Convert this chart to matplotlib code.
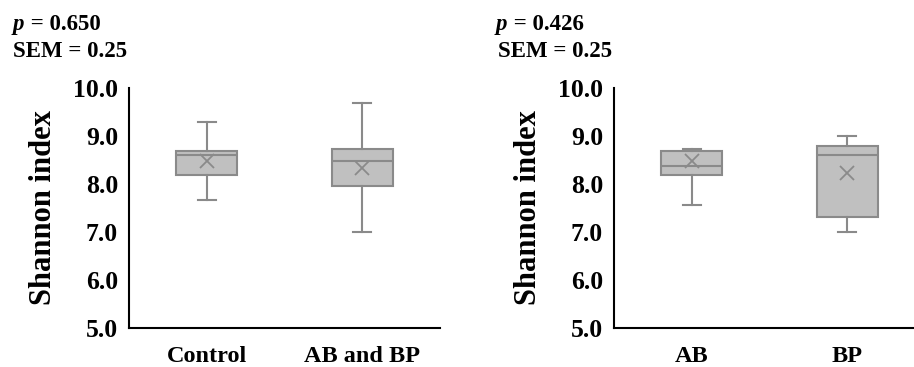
import matplotlib
matplotlib.use("Agg")
import matplotlib.pyplot as plt

W, H = 914, 367
DPI = 100

# ---- data ----
left_groups = ["Control", "AB and BP"]
left_whislo = [7.67, 6.99]
left_q1 = [8.19, 7.96]
left_med = [8.60, 8.47]
left_q3 = [8.69, 8.72]
left_whishi = [9.30, 9.69]
left_mean = [8.47, 8.34]
left_p = "0.650"
left_sem = "0.25"

right_groups = ["AB", "BP"]
right_whislo = [7.57, 6.99]
right_q1 = [8.19, 7.31]
right_med = [8.38, 8.60]
right_q3 = [8.69, 8.79]
right_whishi = [8.72, 9.01]
right_mean = [8.47, 8.22]
right_p = "0.426"
right_sem = "0.25"

yticks = [5.0, 6.0, 7.0, 8.0, 9.0, 10.0]

SERIF = "Liberation Serif"
BOX_FACE = "#c0c0c0"
BOX_EDGE = "#8a8a8a"

fig = plt.figure(figsize=(W / DPI, H / DPI), dpi=DPI)


def px_axes(x0, x1, y_top, y_bot):
    return fig.add_axes([x0 / W, 1 - y_bot / H, (x1 - x0) / W, (y_bot - y_top) / H])


def panel(ax, groups, lo, q1, med, q3, hi, mean):
    stats = []
    for i, g in enumerate(groups):
        stats.append(dict(label=g, whislo=lo[i], q1=q1[i], med=med[i], q3=q3[i],
                          whishi=hi[i], mean=mean[i], fliers=[]))
    ax.bxp(stats, positions=list(range(1, len(groups) + 1)), widths=0.39,
           capwidths=0.115, patch_artist=True, showmeans=True, showfliers=False,
           boxprops=dict(facecolor=BOX_FACE, edgecolor=BOX_EDGE, linewidth=1.5),
           medianprops=dict(color=BOX_EDGE, linewidth=1.5),
           whiskerprops=dict(color=BOX_EDGE, linewidth=1.5),
           capprops=dict(color=BOX_EDGE, linewidth=1.5),
           meanprops=dict(marker="x", markeredgecolor=BOX_EDGE, markersize=10,
                          markeredgewidth=1.3))
    ax.set_xlim(0.5, len(groups) + 0.5)
    ax.set_ylim(5.0, 10.0)
    ax.set_yticks(yticks)
    ax.set_yticklabels([f"{v:.1f}" for v in yticks])
    for s in ["top", "right"]:
        ax.spines[s].set_visible(False)
    for s in ["left", "bottom"]:
        ax.spines[s].set_linewidth(1.5)
        ax.spines[s].set_color("black")
    ax.tick_params(axis="both", length=0)
    ax.tick_params(axis="y", pad=8)
    ax.tick_params(axis="x", pad=13)
    for lab in ax.get_yticklabels():
        lab.set_fontfamily(SERIF)
        lab.set_fontweight("bold")
        lab.set_fontsize(18.5)
    for lab in ax.get_xticklabels():
        lab.set_fontfamily(SERIF)
        lab.set_fontweight("bold")
        lab.set_fontsize(17.5)
    ax.patch.set_alpha(0)


axL = px_axes(129, 440, 88, 328)
panel(axL, left_groups, left_whislo, left_q1, left_med, left_q3, left_whishi, left_mean)
axR = px_axes(614, 925, 88, 328)
panel(axR, right_groups, right_whislo, right_q1, right_med, right_q3, right_whishi, right_mean)

# y labels
for xc in (44, 529):
    fig.text(xc / W, 1 - 208 / H, "Shannon index", rotation=90, ha="center", va="center",
             fontfamily=SERIF, fontweight="bold", fontsize=22)

# p and SEM annotations
for (xp, xs, pv, sv) in ((13, 13, left_p, left_sem), (496, 498, right_p, right_sem)):
    fig.text(xp / W, 1 - 30 / H, "p", style="italic",
             fontfamily=SERIF, fontweight="bold", fontsize=16.5, ha="left", va="baseline")
    fig.text((xp + 12) / W, 1 - 30 / H, " = " + pv,
             fontfamily=SERIF, fontweight="bold", fontsize=16.5, ha="left", va="baseline")
    fig.text(xs / W, 1 - 57 / H, "SEM = " + sv,
             fontfamily=SERIF, fontweight="bold", fontsize=16.5, ha="left", va="baseline")

fig.savefig("out.png", dpi=DPI)
